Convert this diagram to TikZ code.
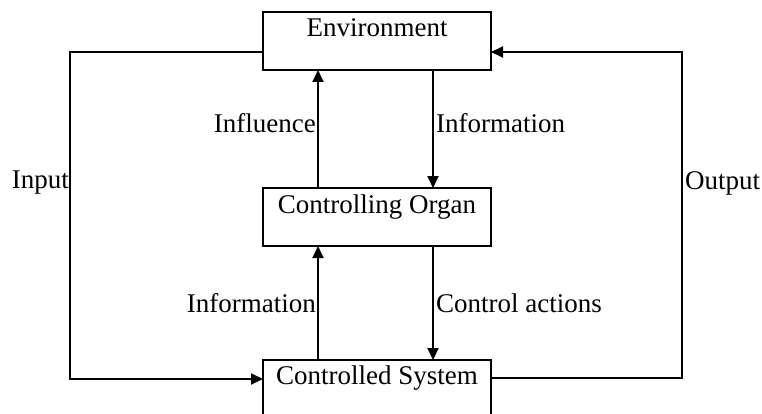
\documentclass[tikz,border=0pt]{standalone}
\usepackage{fontspec}
\setmainfont{Liberation Serif}
\usetikzlibrary{arrows.meta}

\tikzset{
  x=1pt, y=1pt,
  box/.style={draw, line width=2pt, minimum width=228pt, minimum height=58pt,
              inner sep=0pt, outer sep=0pt},
  boxtext/.style={anchor=base, inner sep=0pt},
  conn/.style={line width=2pt, -{Triangle[length=12pt,width=11pt]}},
  tag/.style={inner sep=0pt},
}

\begin{document}
\begin{tikzpicture}[font=\fontsize{27}{32}\selectfont]
  \useasboundingbox (0,0) rectangle (762,413);
  \clip (0,0) rectangle (762,413);

  % the three blocks
  \node[box] (env)   at (377,372) {};
  \node[box] (organ) at (377,196) {};
  \node[box] (sys)   at (377,24)  {};

  \node[boxtext] (envlabel)   at ([yshift=-25pt]env.north)   {Environment};
  \node[boxtext] (organlabel) at ([yshift=-25pt]organ.north) {Controlling Organ};
  \node[boxtext] (syslabel)   at ([yshift=-24pt]sys.north)   {Controlled System};

  % columns of the vertical links and the bends of the outer loop
  \coordinate (lx) at (318,0);
  \coordinate (rx) at (433,0);
  \coordinate (inbend)  at (70,34);
  \coordinate (outbend) at (682,361);

  % links between the blocks
  \draw[conn] (organ.north -| lx) -- (env.south -| lx);
  \draw[conn] (env.south -| rx) -- (organ.north -| rx);
  \draw[conn] (sys.north -| lx) -- (organ.south -| lx);
  \draw[conn] (organ.south -| rx) -- (sys.north -| rx);

  % outer loop
  \draw[conn] ([yshift=-11pt]env.west) -| (inbend) -- ([yshift=10pt]sys.west);
  \draw[conn] ([yshift=11pt]sys.east) -| (outbend) -- ([yshift=-11pt]env.east);

  % link labels
  \node[tag, anchor=east] (influence) at (316,290) {Influence};
  \node[tag, anchor=west] (infoup)    at (436,290) {Information};
  \node[tag, anchor=east] (infodown)  at (316,110) {Information};
  \node[tag, anchor=west] (control)   at (436,110) {Control actions};
  \node[tag, anchor=east] (input)     at (69,230)  {Input};
  \node[tag, anchor=west] (output)    at (685,230) {Output};
\end{tikzpicture}
\end{document}
